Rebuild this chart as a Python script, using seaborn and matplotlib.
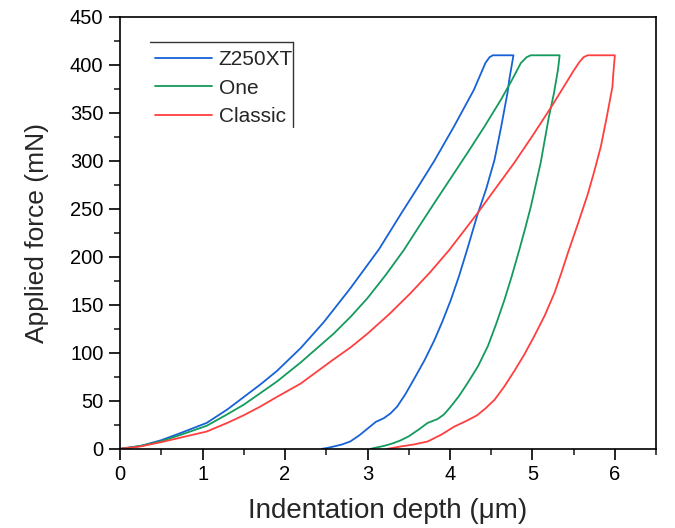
import numpy as np
import pandas as pd
import matplotlib.pyplot as plt
import seaborn as sns
from matplotlib.ticker import MultipleLocator

sns.set_style("white")
plt.rcParams["font.family"] = ["Liberation Sans", "DejaVu Sans"]

materials = ["Z250XT", "One", "Classic"]
colors = ["#1662d6", "#139a5c", "#ff3f3f"]

# loading -> hold at 410 mN -> unloading
z250_depth = [0, 0.25, 0.5, 0.75, 1.05, 1.3, 1.5, 1.7, 1.9, 2.19, 2.47, 2.79, 3.14, 3.40, 3.6, 3.81,
              4.05, 4.29, 4.38, 4.43, 4.48, 4.52,
              4.77, 4.75, 4.72, 4.70, 4.62, 4.54, 4.44, 4.33, 4.21, 4.11, 4.01, 3.91, 3.81, 3.69,
              3.56, 3.46, 3.36, 3.28, 3.20, 3.10, 3.00, 2.90, 2.79, 2.69, 2.59, 2.50, 2.45]
z250_force = [0, 3, 9, 17, 27, 41, 54, 67, 81, 105, 132, 167, 208, 244, 271, 300,
              336, 374, 392, 402, 408, 410,
              410, 400, 385, 372, 335, 301, 271, 243, 208, 180, 155, 133, 113, 92,
              72, 57, 44, 37, 32, 28, 21, 14, 7.6, 4.5, 2.4, 0.7, 0]

one_depth = [0, 0.25, 0.5, 0.75, 1.05, 1.3, 1.5, 1.7, 1.9, 2.19, 2.59, 2.8, 3.0, 3.22, 3.44, 3.62,
             3.81, 4.01, 4.21, 4.42, 4.62, 4.75, 4.86, 4.93, 4.98,
             5.33, 5.31, 5.26, 5.20, 5.15, 5.10, 5.04, 4.98, 4.91, 4.84, 4.75, 4.66, 4.56, 4.46,
             4.34, 4.21, 4.11, 4.01, 3.93, 3.85, 3.73, 3.62, 3.50, 3.40, 3.30, 3.20, 3.10, 3.04]
one_force = [0, 3, 8, 15, 24, 36, 46, 58, 70, 90, 120, 138, 157, 181, 207, 231,
             256, 282, 308, 336, 364, 384, 402, 408, 410,
             410, 395, 370, 346, 322, 298, 275, 252, 229, 207, 180, 155, 130, 107,
             86, 68, 55, 44, 36, 31, 27, 20, 13, 8.7, 5.5, 3, 1.2, 0]

classic_depth = [0, 0.25, 0.5, 0.75, 1.05, 1.3, 1.5, 1.7, 1.9, 2.19, 2.57, 2.8, 3.0, 3.26, 3.52,
                 3.76, 3.99, 4.16, 4.33, 4.55, 4.78, 5.0, 5.22, 5.4, 5.5, 5.57, 5.62, 5.67,
                 6.00, 5.98, 5.97, 5.90, 5.83, 5.75, 5.67, 5.55, 5.43, 5.35, 5.27, 5.15, 5.02,
                 4.90, 4.78, 4.66, 4.54, 4.43, 4.33, 4.21, 4.05, 3.90, 3.73, 3.56, 3.40, 3.30, 3.24]
classic_force = [0, 2.5, 7, 12, 18, 27, 35, 44, 54, 68, 92, 106, 120, 140, 162,
                 184, 207, 226, 245, 271, 298, 326, 355, 380, 394, 403, 408, 410,
                 410, 390, 377, 345, 315, 289, 265, 234, 204, 183, 163, 139, 117,
                 98, 81, 65, 51, 42, 35, 29.5, 23, 15, 7.6, 4.5, 2.4, 0.8, 0]

frames = []
for name, d, f in zip(materials, [z250_depth, one_depth, classic_depth],
                      [z250_force, one_force, classic_force]):
    frames.append(pd.DataFrame({"depth": d, "force": f, "material": name}))
df = pd.concat(frames, ignore_index=True)

fig = plt.figure(figsize=(6.75, 5.28), dpi=100)
ax = fig.add_axes([0.178, 0.150, 0.794, 0.818])

sns.lineplot(data=df, x="depth", y="force", hue="material", hue_order=materials,
             palette=colors, sort=False, estimator=None, linewidth=1.3, ax=ax)

ax.set_xlim(0, 6.5)
ax.set_ylim(0, 450)
ax.xaxis.set_major_locator(MultipleLocator(1))
ax.xaxis.set_minor_locator(MultipleLocator(0.5))
ax.yaxis.set_major_locator(MultipleLocator(50))
ax.yaxis.set_minor_locator(MultipleLocator(25))
ax.tick_params(which="major", direction="out", length=8, width=1.2, labelsize=14.5, pad=4,
               bottom=True, left=True, top=False, right=False, colors="black")
ax.tick_params(which="minor", direction="out", length=4, width=1.2,
               bottom=True, left=True, top=False, right=False)
for s in ax.spines.values():
    s.set_linewidth(1.2)
    s.set_color("black")

ax.set_xlabel("Indentation depth (\u03bcm)", fontsize=20, labelpad=10)
ax.set_ylabel("Applied force (mN)", fontsize=19, labelpad=15)

leg = ax.legend(loc="upper left", bbox_to_anchor=(0.03, 0.966), frameon=False,
                fontsize=15, handlelength=2.75, handletextpad=0.3, labelspacing=0.45)
for line in leg.get_lines():
    line.set_linewidth(1.3)
# partial legend frame (top and right edge only)
ax.plot([0.056, 0.322], [0.942, 0.942], color="#333333", lw=1.0, transform=ax.transAxes, clip_on=False)
ax.plot([0.322, 0.322], [0.942, 0.745], color="#333333", lw=1.0, transform=ax.transAxes, clip_on=False)

fig.savefig("out.png", dpi=100)
